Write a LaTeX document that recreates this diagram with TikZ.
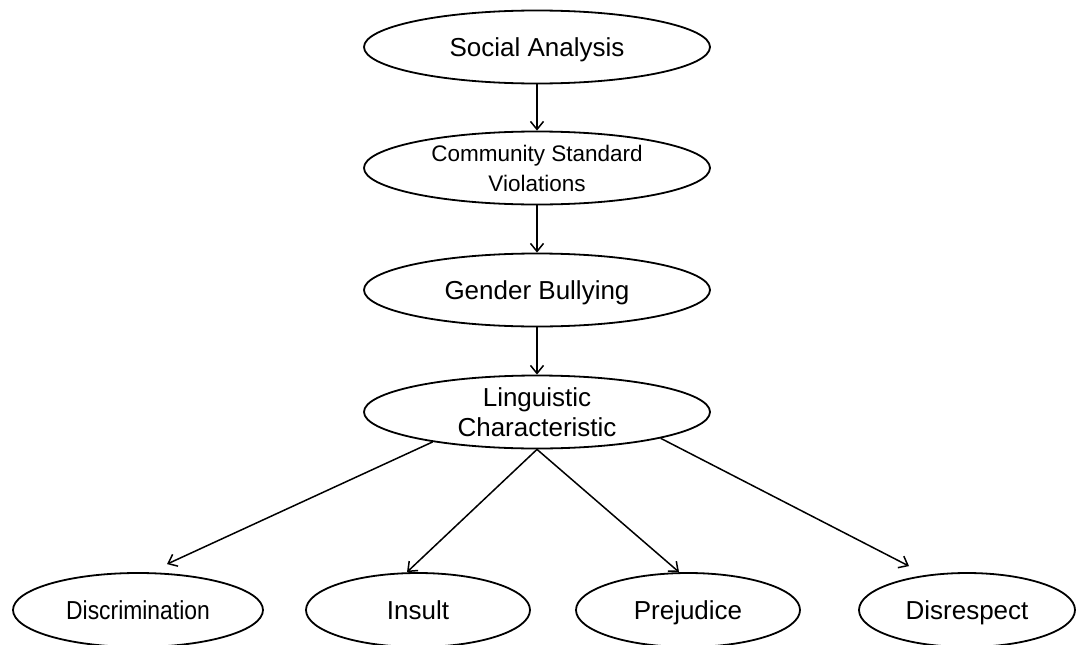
\documentclass[tikz,border=0pt]{standalone}
\usepackage{graphicx}
\usepackage{fontspec}
\setmainfont{Liberation Sans}
\usetikzlibrary{shapes.geometric,arrows.meta}
\begin{document}
\begin{tikzpicture}[x=1pt,y=-1pt,
  ell/.style={ellipse,draw=black,line width=1.8pt,inner sep=0pt,
    minimum height=73pt,align=center,font=\fontsize{26}{30}\selectfont},
  bigell/.style={ell,minimum width=346pt},
  oneline/.style={text height=18.6pt,text depth=0pt},
  conn/.style={line width=1.5pt,-{Straight Barb[length=8pt,width=13pt,line width=1.5pt]}}]
\useasboundingbox (0,0) rectangle (1076,645);
\node[bigell,oneline] (sa) at (537,47) {Social Analysis};
\node[bigell,inner ysep=-4pt,font=\fontsize{22.5}{30}\selectfont] (csv) at (537,168) {Community Standard\\Violations};
\node[bigell,oneline] (gb) at (537,290) {Gender Bullying};
\node[bigell,inner ysep=-4pt] (lc) at (537,412) {Linguistic\\Characteristic};
\node[ell,oneline,minimum width=250pt,minimum height=74pt] (disc) at (138,610) {\scalebox{0.88}[1]{Discrimination}};
\node[ell,oneline,minimum width=224pt,minimum height=74pt] (ins) at (418,610) {Insult};
\node[ell,oneline,minimum width=224pt,minimum height=74pt] (prej) at (688,610) {Prejudice};
\node[ell,oneline,minimum width=216pt,minimum height=74pt] (disr) at (967,610) {Disrespect};
\draw[conn] (sa) -- (csv);
\draw[conn] (csv) -- (gb);
\draw[conn] (gb) -- (lc);
\draw[conn] (lc.196) -- ([xshift=29pt,yshift=8pt]disc.north);
\draw[conn] (lc.south) -- ([xshift=-11pt]ins.north);
\draw[conn] (lc.south) -- ([xshift=-9pt]prej.north);
\draw[conn] (lc.-12) -- ([xshift=-58pt,yshift=6pt]disr.north);
\end{tikzpicture}
\end{document}
